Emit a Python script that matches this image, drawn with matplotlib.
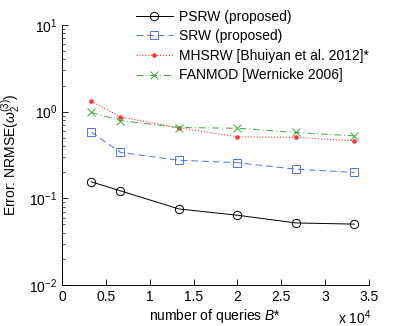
import numpy as np
import matplotlib
matplotlib.use('Agg')
from matplotlib import pyplot as plt
from matplotlib.ticker import LogLocator, NullFormatter

plt.rcParams['font.family'] = ['Liberation Sans', 'DejaVu Sans']
plt.rcParams['mathtext.fontset'] = 'custom'
plt.rcParams['mathtext.rm'] = 'Liberation Sans'
plt.rcParams['mathtext.it'] = 'Liberation Sans:italic'

queries = [3333, 6667, 13333, 20000, 26667, 33333]
psrw = [0.155, 0.122, 0.0754, 0.0638, 0.052, 0.0504]
srw = [0.58, 0.339, 0.275, 0.258, 0.217, 0.199]
mhsrw = [1.32, 0.87, 0.65, 0.513, 0.504, 0.461]
fanmod = [0.98, 0.79, 0.656, 0.644, 0.575, 0.526]

labels = ['PSRW (proposed)', 'SRW (proposed)',
          'MHSRW [Bhuiyan et al. 2012]*', 'FANMOD [Wernicke 2006]']

fig = plt.figure(figsize=(4.07, 3.26), dpi=100)
ax = fig.add_axes([62/407, 1-285/326, 307/407, 260/326])

x = np.array(queries) / 1e4
ax.plot(x, psrw, '-', color='black', lw=0.7, marker='o', ms=6, mfc='none', mew=0.7, label=labels[0])
ax.plot(x, srw, '--', color='#4f6ff0', lw=0.7, marker='s', ms=5.5, mfc='none', mew=0.7,
        dashes=(7, 4), label=labels[1])
ax.plot(x, mhsrw, ':', color='#ff3030', lw=0.8, marker='.', ms=4.5, label=labels[2])
ax.plot(x, fanmod, '-.', color='#3aa83a', lw=0.7, marker='x', ms=5.5, mew=0.7,
        dashes=(7, 3, 1, 3), label=labels[3])

ax.set_yscale('log')
ax.set_ylim(1e-2, 1e1)
ax.set_xlim(0, 3.5)
ax.set_xticks(np.arange(0, 3.51, 0.5))
ax.set_xticklabels(['0', '0.5', '1', '1.5', '2', '2.5', '3', '3.5'])
ax.yaxis.set_minor_locator(LogLocator(subs=np.arange(2, 10)))
ax.yaxis.set_minor_formatter(NullFormatter())
ax.tick_params(direction='in', labelsize=10, length=4, width=0.6)
ax.tick_params(which='minor', direction='in', length=2, width=0.5)
for s in ['top', 'right']:
    ax.spines[s].set_visible(False)
for s in ['left', 'bottom']:
    ax.spines[s].set_linewidth(0.7)

ax.set_xlabel('number of queries $B$*', fontsize=10, labelpad=2)
ax.set_ylabel(r'Error: NRMSE($\omega_2^{(3)}$)', fontsize=10, labelpad=4)
fig.text(338/407, 1-318/326, r'x 10$^4$', fontsize=10, ha='left', va='center')

ax.legend(loc='upper left', bbox_to_anchor=(126/407, 1-0/326), bbox_transform=fig.transFigure,
          frameon=False, fontsize=10, handlelength=2.7, labelspacing=0.4, borderpad=0.2,
          handletextpad=0.4)

fig.savefig('out.png', dpi=100)
